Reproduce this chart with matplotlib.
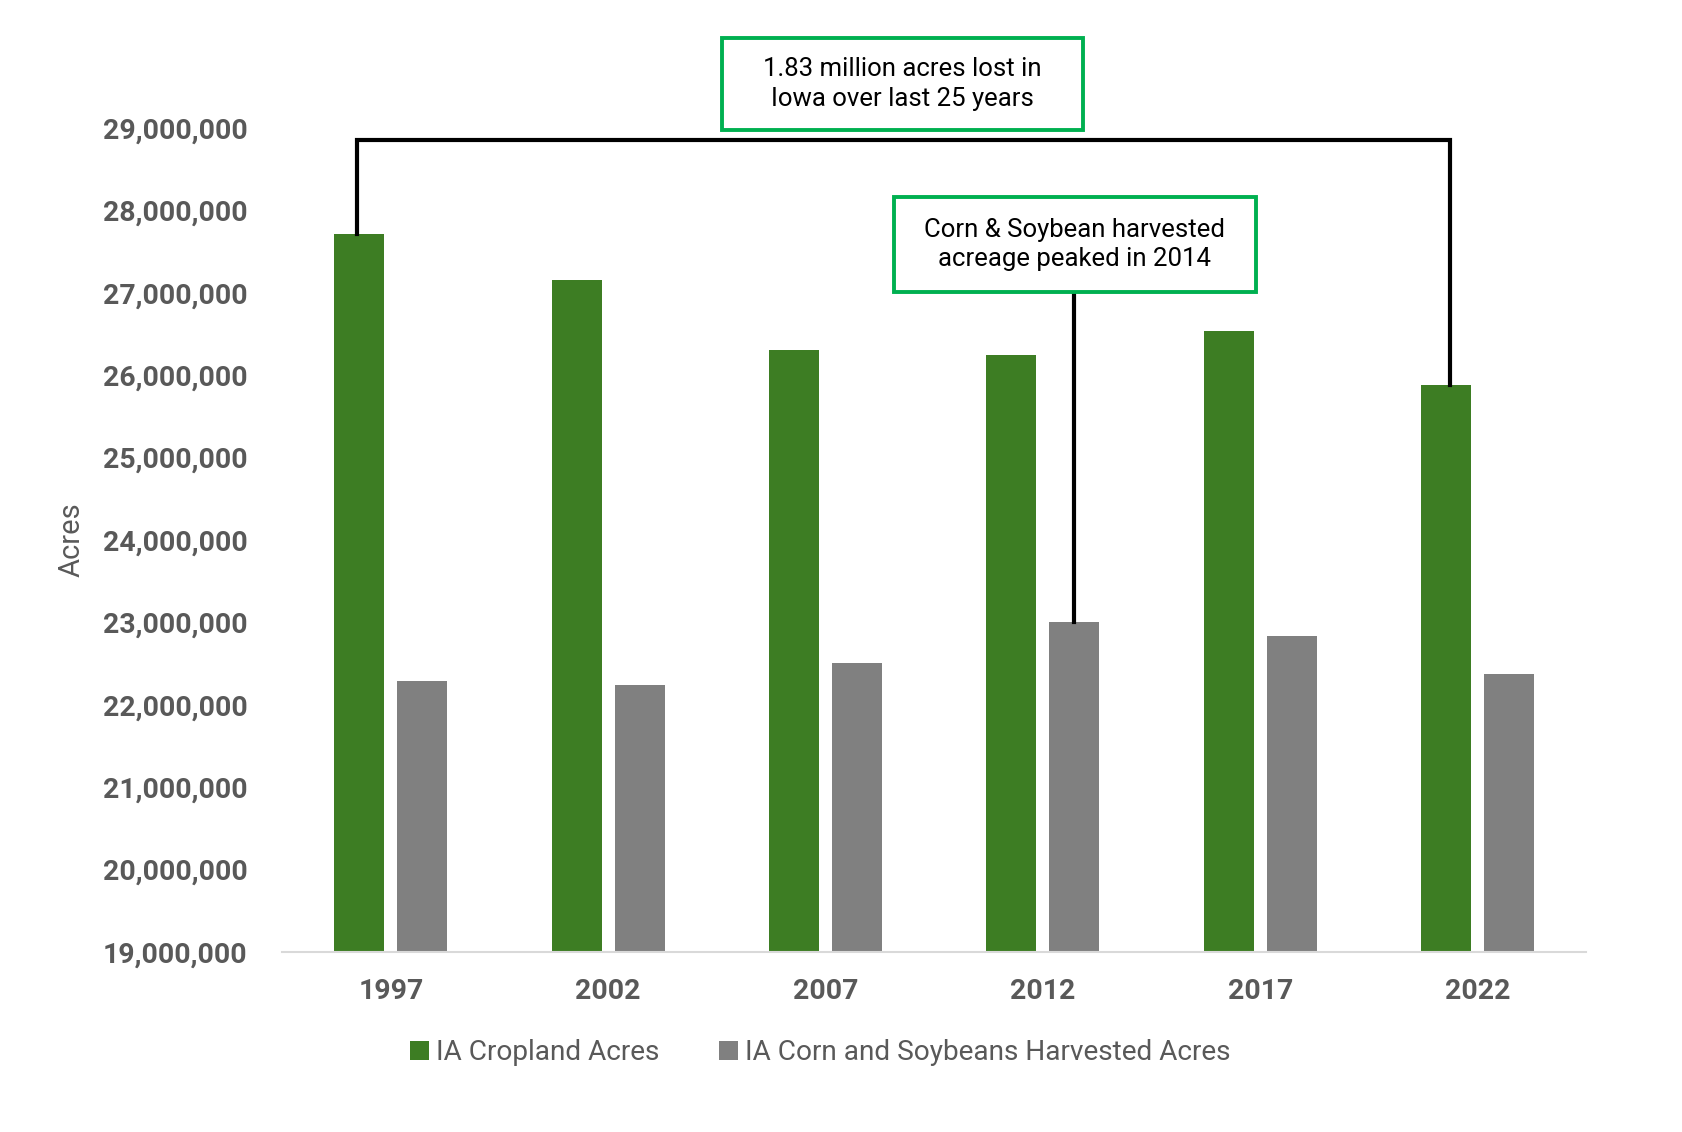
import matplotlib
matplotlib.use('Agg')
import matplotlib.pyplot as plt
import numpy as np
from matplotlib.patches import Rectangle
from matplotlib.ticker import FuncFormatter

plt.rcParams['font.family'] = ['Roboto', 'DejaVu Sans']

years = ['1997', '2002', '2007', '2012', '2017', '2022']
cropland = [27710000, 27150000, 26310000, 26240000, 26530000, 25880000]
corn_soy = [22290000, 22240000, 22510000, 23000000, 22830000, 22370000]

green = '#3D7D23'
gray = '#808080'
txt = '#595959'
box_green = '#00B050'

fig = plt.figure(figsize=(16.82, 11.32), dpi=100)
ax = fig.add_axes([0.1677, 0.159, 0.7755, 0.728])

x = np.arange(len(years))
w = 0.23
ax.bar(x - 0.145, cropland, w, color=green, label='IA Cropland Acres')
ax.bar(x + 0.145, corn_soy, w, color=gray, label='IA Corn and Soybeans Harvested Acres')

ax.set_xlim(-0.5, 5.5)
ax.set_ylim(19000000, 29000000)
ax.set_yticks(np.arange(19000000, 29000001, 1000000))
ax.yaxis.set_major_formatter(FuncFormatter(lambda v, p: f'{int(v):,}'))
ax.set_xticks(x)
ax.set_xticklabels(years)

for s in ['top', 'right', 'left']:
    ax.spines[s].set_visible(False)
ax.spines['bottom'].set_color('#D9D9D9')
ax.spines['bottom'].set_linewidth(1.5)
ax.tick_params(axis='both', length=0, labelsize=20.4, labelcolor=txt)
ax.tick_params(axis='y', pad=25)
ax.tick_params(axis='x', pad=19)
for lab in ax.get_xticklabels() + ax.get_yticklabels():
    lab.set_fontweight('bold')

ax.set_ylabel('Acres', fontsize=21, color=txt)
ax.yaxis.set_label_coords(-0.151, 0.5)

# bracket: 1997 -> 2022 cropland
lx = x[0] - 0.155
rx = x[5] - 0.13
top = 28850000
ax.plot([lx, lx, rx, rx], [cropland[0], top, top, cropland[5]],
        color='black', lw=3.0, clip_on=False, solid_joinstyle='miter')

# line from box 2 to 2012 corn/soy bar
bx = x[3] + 0.145
ax.plot([bx, bx], [corn_soy[3], 27010000], color='black', lw=3.0, clip_on=False)

# annotation boxes
def note(cx, cy, bw, bh, s):
    ax.add_patch(Rectangle((cx - bw / 2, cy - bh / 2), bw, bh, fill=True,
                           facecolor='white', edgecolor=box_green, lw=2.8,
                           clip_on=False, zorder=5))
    ax.text(cx, cy, s, ha='center', va='center', fontsize=18.5, color='black',
            linespacing=1.3, zorder=6, clip_on=False)

note(2.355, 29537000, 1.659, 1118000, '1.83 million acres lost in\nIowa over last 25 years')
note(3.147, 27587000, 1.663, 1154000, 'Corn & Soybean harvested\nacreage peaked in 2014')

fig.legend(loc='center', bbox_to_anchor=(0.4877, 0.070), ncol=2, frameon=False,
           fontsize=20.2, labelcolor=txt, handlelength=0.7, handleheight=0.7,
           handletextpad=0.25, columnspacing=2.1)

fig.savefig('out.png', dpi=100)
